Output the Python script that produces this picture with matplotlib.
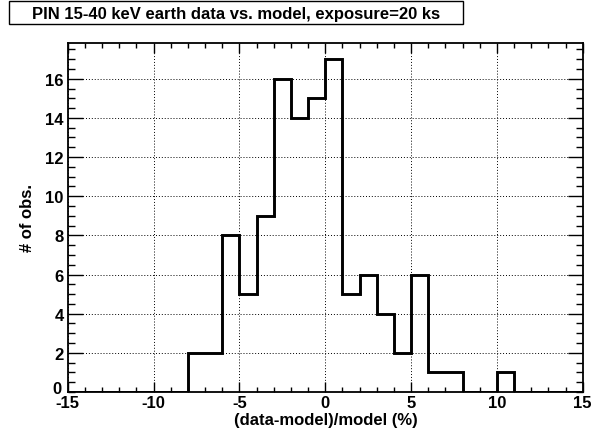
#!/usr/bin/env python

import numpy as np
import matplotlib
matplotlib.use('Agg')
import matplotlib.pyplot as plt
from matplotlib.patches import Rectangle

# histogram of (data-model)/model, 1% bins from -15 to 15
bin_edges = np.arange(-15, 16, 1)
counts = [0, 0, 0, 0, 0, 0, 0,       # -15 .. -8
          2, 2, 8, 5, 9, 16, 14, 15,  # -8 .. 0
          17, 5, 6, 4, 2, 6, 1, 1,    # 0 .. 8
          0, 0, 1, 0, 0, 0, 0]        # 8 .. 15

title = 'PIN 15-40 keV earth data vs. model, exposure=20 ks'
xlabel = '(data-model)/model (%)'
ylabel = '# of obs.'
xticks = [-15, -10, -5, 0, 5, 10, 15]
yticks = [2, 4, 6, 8, 10, 12, 14, 16]

W, H = 601, 439


def main():
    plt.rcParams['font.family'] = ['Liberation Sans', 'DejaVu Sans']
    plt.rcParams['font.weight'] = 'bold'

    fig = plt.figure(figsize=(W / 100, H / 100), dpi=100)
    ax = fig.add_axes([67.7 / W, 1 - 393 / H, 515 / W, 349.5 / H])

    ax.stairs(counts, bin_edges, color='black', linewidth=2.1)

    ax.set_xlim(-15, 15)
    ax.set_ylim(0, 1.05 * max(counts))

    ax.set_xticks(xticks)
    ax.set_xticklabels([str(t) for t in xticks], fontsize=12, fontweight='bold')
    ax.set_xticks(np.arange(-15, 16, 1), minor=True)
    ax.set_yticks(yticks)
    ax.set_yticklabels([str(t) for t in yticks], fontsize=12, fontweight='bold')
    ax.set_yticks(np.arange(0, 17.9, 0.5), minor=True)

    ax.tick_params(axis='both', which='both', direction='in',
                   top=True, right=True, width=1.0, color='black')
    ax.tick_params(axis='x', which='major', length=7.5, pad=2)
    ax.tick_params(axis='x', which='minor', length=3.8)
    ax.tick_params(axis='y', which='major', length=10.5, pad=3)
    ax.tick_params(axis='y', which='minor', length=5.3)

    ax.grid(True, which='major', linestyle=(0, (1, 2)), color='black', linewidth=0.7)
    for s in ax.spines.values():
        s.set_linewidth(1.3)

    # zero label of the y axis, ROOT puts it in the corner
    fig.text(57 / W, 1 - 390 / H, '0', ha='center', va='center',
             fontsize=12, fontweight='bold')

    fig.text(326 / W, 1 - 421 / H, xlabel, ha='center', va='center',
             fontsize=12, fontweight='bold')
    fig.text(28 / W, 1 - 218 / H, ylabel, ha='center', va='center',
             rotation=90, fontsize=12, fontweight='bold')

    # title in a box
    t = fig.text(32 / W, 1 - 14 / H, title, ha='left', va='center',
                 fontsize=12, fontweight='bold')
    fig.canvas.draw()
    bb = t.get_window_extent()
    right = bb.x1 + 23
    fig.add_artist(Rectangle((9 / W, 1 - 25 / H), (right - 9) / W, 23 / H,
                             transform=fig.transFigure, facecolor='white',
                             edgecolor='black', linewidth=1.0, zorder=0))

    fig.savefig('out.png', dpi=100)


if __name__ == "__main__":
    main()
